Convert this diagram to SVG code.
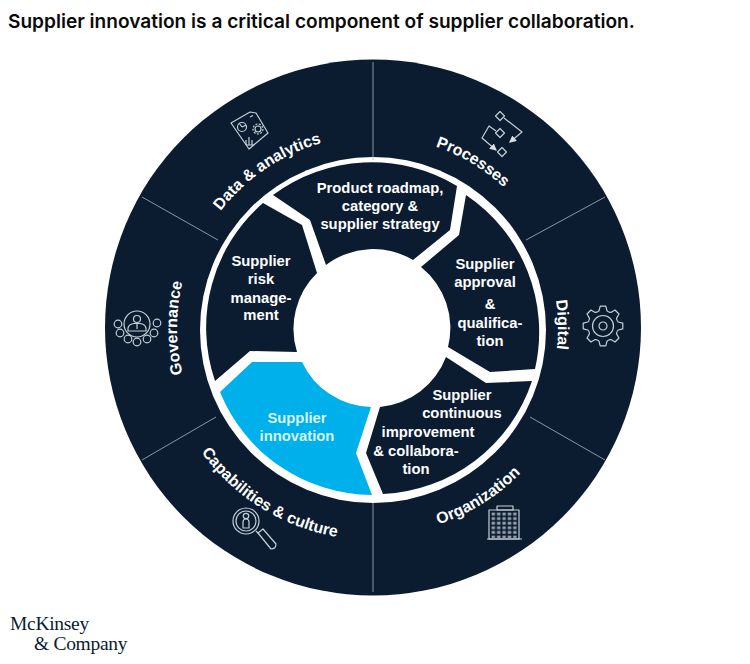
<svg xmlns="http://www.w3.org/2000/svg" xmlns:xlink="http://www.w3.org/1999/xlink" width="750" height="664" viewBox="0 0 750 664">
<style>
.seg{fill:#0b1c31}
.lab{font:700 14.8px "Liberation Sans",Arial,sans-serif;fill:#fff;text-anchor:middle}
.ring{font:700 16px "Liberation Sans",Arial,sans-serif;fill:#fff;text-anchor:middle}
.ic{fill:none;stroke:#c6ced6;stroke-width:1.2;stroke-linejoin:round}
.div{stroke:#aab4c0;stroke-width:.8;fill:none}
.logo{font-family:"Liberation Serif","Times New Roman",serif;font-size:19.5px;fill:#0b1c31;letter-spacing:-.3px}
</style>
<defs>
<path id="a1" d="M200.400 243.900A192 192 0 0 1 359.600 136.500"/>
<path id="a2" d="M376.400 136A192 192 0 0 1 540.900 234.900"/>
<path id="a3" d="M531.600 232.700A185 185 0 0 1 534.800 417.700"/>
<path id="a4" d="M203.300 426A196 196 0 0 1 203.300 230"/>
<path id="a5" d="M171.400 393.500A212 212 0 0 0 402.500 537.900"/>
<path id="a6" d="M337.100 531.900A207 207 0 0 0 572 385"/>
<path id="tooth" d="M13.86-5.74L15.2-4L19.8-2.8V2.8L15.2 4L13.86 5.74"/>
<pattern id="win" width="5.4" height="4.6" patternUnits="userSpaceOnUse" x="491" y="512"><rect x=".6" y=".6" width="3.4" height="2.8" fill="#c6ced6" opacity=".75"/></pattern>
<marker id="ah" markerWidth="6" markerHeight="6" refX="5" refY="3" orient="auto"><path d="M0 0L6 3L0 6z" fill="#d8dee4"/></marker>
</defs>
<rect width="750" height="664" fill="#fff"/>
<text x="8" y="28" font-family="Inter,'Liberation Sans',sans-serif" font-weight="600" font-size="19.1" fill="#0a0a0a">Supplier innovation is a critical component of supplier collaboration.</text>

<g id="outer-ring">
<circle cx="373" cy="327.500" r="268" class="seg"/>
<circle cx="373" cy="330" r="173" fill="#fff"/>
</g>
<g id="connectors">
<path class="div" d="M373 62V160M526 240L605 197M530 417L605 460M373 503V592M216 417L142 460M218 240L142 197"/>
</g>

<g id="seg-roadmap"><path class="seg" d="M273 195A165 165 0 0 1 457 186L450 230L413 260A78 78 0 0 0 326 265L310 220Z"/>
<text class="lab" x="380" y="193">Product roadmap,</text><text class="lab" x="380" y="211">category &amp;</text><text class="lab" x="380" y="229">supplier strategy</text></g>
<g id="seg-approval"><path class="seg" d="M466 195A165 165 0 0 1 535 369L490 372L448 347A78 78 0 0 0 421 267L459 235Z"/>
<text class="lab" x="485" y="269">Supplier</text><text class="lab" x="485" y="287">approval</text><text class="lab" x="490" y="309">&amp;</text><text class="lab" x="490" y="328">qualifica-</text><text class="lab" x="490" y="346">tion</text></g>
<g id="seg-continuous"><path class="seg" d="M532 381A165 165 0 0 1 383 494L366 453L380 407A78 78 0 0 0 446 357L486 383Z"/>
<text class="lab" x="462" y="400">Supplier</text><text class="lab" x="462" y="418">continuous</text><text class="lab" x="428" y="437">improvement</text><text class="lab" x="416" y="456">&amp; collabora-</text><text class="lab" x="416" y="474">tion</text></g>
<g id="seg-innovation"><path d="M372 495A165 165 0 0 1 220 392L252 362H302A78 78 0 0 0 371 407L356 453Z" fill="#00b0ea"/>
<text class="lab" x="297" y="423" style="fill:#d8f3fc">Supplier</text><text class="lab" x="297" y="441" style="fill:#d8f3fc">innovation</text></g>
<g id="seg-risk"><path class="seg" d="M215 381A165 165 0 0 1 263 203L302 225L317 273A78 78 0 0 0 297 352L250 351Z"/>
<text class="lab" x="261" y="266">Supplier</text><text class="lab" x="261" y="284">risk</text><text class="lab" x="261" y="303">manage-</text><text class="lab" x="261" y="320">ment</text></g>

<g id="data-analytics"><text class="ring"><textPath href="#a1" startOffset="50%">Data &amp; analytics</textPath></text>
<g class="ic"><path d="M231 123L250 112L256 113L268 133L249 149Z"/><path d="M250 117L253 115.500"/><circle cx="242" cy="127" r="4.500"/><path d="M242 127L239 123M242 127L246 125"/><circle cx="258" cy="129" r="3"/><circle cx="258" cy="129" r="5" stroke-dasharray="2 1.4"/><path d="M246 140V145M249 137V145M252 140V145M246 145H254"/></g></g>
<g id="processes"><text class="ring"><textPath href="#a2" startOffset="50%">Processes</textPath></text>
<g class="ic"><path d="M500 111.500L504.500 116L500 120.500L495.500 116ZM500 128.500L504.500 133L500 137.500L495.500 133ZM502 147.500L506.500 152L502 156.500L497.500 152Z"/><path d="M504 118L522 132L510 142" marker-end="url(#ah)"/><path d="M496 131L489 126L482 138L496 150" marker-end="url(#ah)"/></g></g>
<g id="digital"><text class="ring"><textPath href="#a3" startOffset="50%">Digital</textPath></text>
<g class="ic" transform="translate(603 326)"><use href="#tooth"/><use href="#tooth" transform="rotate(45)"/><use href="#tooth" transform="rotate(90)"/><use href="#tooth" transform="rotate(135)"/><use href="#tooth" transform="rotate(180)"/><use href="#tooth" transform="rotate(225)"/><use href="#tooth" transform="rotate(270)"/><use href="#tooth" transform="rotate(315)"/><circle r="10.500"/><circle r="4"/></g></g>
<g id="organization"><text class="ring"><textPath href="#a6" startOffset="50%">Organization</textPath></text>
<g class="ic"><rect x="489" y="510" width="30" height="29"/><rect x="497" y="506" width="16" height="4"/><path d="M487 539H522"/><rect x="491" y="512" width="26" height="26" fill="url(#win)" stroke="none"/></g></g>
<g id="capabilities"><text class="ring"><textPath href="#a5" startOffset="50%">Capabilities &amp; culture</textPath></text>
<g class="ic"><circle cx="246" cy="521" r="13"/><circle cx="246" cy="521" r="10"/><circle cx="246" cy="516" r="2.700"/><path d="M243 528V522Q243 519 246 519Q249 519 249 522V528Z"/><path d="M256 531L259 534"/><path d="M258 533L263 529L276 544Q276 549 271 549Z"/></g></g>
<g id="governance"><text class="ring"><textPath href="#a4" startOffset="50%">Governance</textPath></text>
<g class="ic"><circle cx="137" cy="324" r="13"/><circle cx="137" cy="319" r="3.500"/><path d="M128 331V328Q129 324 134 323.500H140Q145 324 146 328V331Z"/><path d="M137 324V329"/><circle cx="118" cy="324" r="3.800"/><circle cx="120" cy="333" r="3.800"/><circle cx="128" cy="339" r="3.800"/><circle cx="137" cy="342" r="3.800"/><circle cx="147" cy="339" r="3.800"/><circle cx="154" cy="333" r="3.800"/><circle cx="157" cy="323" r="3.800"/></g></g>

<g id="logo"><text class="logo" x="10" y="630">McKinsey</text><text class="logo" x="34" y="650">&amp; Company</text></g>
</svg>
